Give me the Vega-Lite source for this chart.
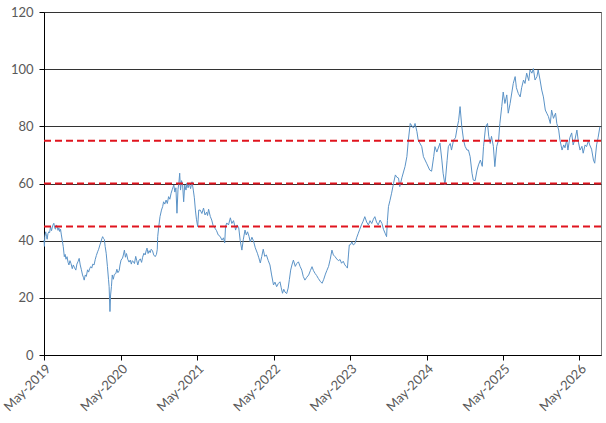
{
  "$schema": "https://vega.github.io/schema/vega-lite/v6.json",
  "description": "Index level, May 2019 to Aug 2026, with reference bands at 45, 60 and 75",
  "width": 557,
  "height": 343,
  "autosize": "none",
  "padding": {"left": 44, "top": 12, "right": 5, "bottom": 68},
  "config": {
    "view": {"stroke": "#7f7f7f", "strokeWidth": 1},
    "axis": {
      "labelFont": "Lato",
      "labelFontSize": 13,
      "labelColor": "#595959",
      "domainColor": "#000000",
      "tickColor": "#000000",
      "tickSize": 5,
      "titleFont": "Lato"
    }
  },
  "datasets": {
    "series": [
      {"date": "2019-05-01", "value": 40.2},
      {"date": "2019-05-03", "value": 38},
      {"date": "2019-05-05", "value": 41.5},
      {"date": "2019-05-09", "value": 43.1},
      {"date": "2019-05-13", "value": 41.5},
      {"date": "2019-05-16", "value": 40.5},
      {"date": "2019-05-20", "value": 42.5},
      {"date": "2019-05-24", "value": 43.1},
      {"date": "2019-05-28", "value": 42.8},
      {"date": "2019-06-01", "value": 44.9},
      {"date": "2019-06-06", "value": 43.5},
      {"date": "2019-06-11", "value": 45.2},
      {"date": "2019-06-17", "value": 46.1},
      {"date": "2019-06-21", "value": 44.5},
      {"date": "2019-06-25", "value": 44},
      {"date": "2019-06-29", "value": 45.5},
      {"date": "2019-07-03", "value": 44.9},
      {"date": "2019-07-07", "value": 43.6},
      {"date": "2019-07-11", "value": 44.5},
      {"date": "2019-07-15", "value": 43.2},
      {"date": "2019-07-19", "value": 44},
      {"date": "2019-07-23", "value": 42},
      {"date": "2019-07-27", "value": 40.2},
      {"date": "2019-08-01", "value": 37.9},
      {"date": "2019-08-06", "value": 34.4},
      {"date": "2019-08-10", "value": 35.2},
      {"date": "2019-08-14", "value": 33.5},
      {"date": "2019-08-19", "value": 34.4},
      {"date": "2019-08-24", "value": 32.4},
      {"date": "2019-08-28", "value": 31.5},
      {"date": "2019-09-02", "value": 33},
      {"date": "2019-09-07", "value": 32},
      {"date": "2019-09-13", "value": 30.2},
      {"date": "2019-09-18", "value": 31.5},
      {"date": "2019-09-24", "value": 30.5},
      {"date": "2019-09-30", "value": 29.7},
      {"date": "2019-10-05", "value": 31.8},
      {"date": "2019-10-10", "value": 32.6},
      {"date": "2019-10-16", "value": 33.8},
      {"date": "2019-10-21", "value": 31.5},
      {"date": "2019-10-26", "value": 30},
      {"date": "2019-11-01", "value": 28},
      {"date": "2019-11-05", "value": 27.2},
      {"date": "2019-11-09", "value": 26.2},
      {"date": "2019-11-14", "value": 28},
      {"date": "2019-11-19", "value": 27.5},
      {"date": "2019-11-25", "value": 29.8},
      {"date": "2019-11-30", "value": 29},
      {"date": "2019-12-05", "value": 30.2},
      {"date": "2019-12-10", "value": 30.9},
      {"date": "2019-12-15", "value": 30.4},
      {"date": "2019-12-20", "value": 31.8},
      {"date": "2019-12-26", "value": 31.5},
      {"date": "2020-01-01", "value": 33.5},
      {"date": "2020-01-06", "value": 34.8},
      {"date": "2020-01-12", "value": 36.1},
      {"date": "2020-01-17", "value": 37},
      {"date": "2020-01-23", "value": 38.5},
      {"date": "2020-01-28", "value": 39.6},
      {"date": "2020-02-01", "value": 40.6},
      {"date": "2020-02-05", "value": 41.4},
      {"date": "2020-02-09", "value": 40.8},
      {"date": "2020-02-13", "value": 40.5},
      {"date": "2020-02-17", "value": 38},
      {"date": "2020-02-22", "value": 35.6},
      {"date": "2020-02-28", "value": 30.9},
      {"date": "2020-03-04", "value": 26.5},
      {"date": "2020-03-07", "value": 23.9},
      {"date": "2020-03-11", "value": 15.2},
      {"date": "2020-03-14", "value": 21},
      {"date": "2020-03-18", "value": 23.9},
      {"date": "2020-03-22", "value": 28},
      {"date": "2020-03-27", "value": 26.5},
      {"date": "2020-04-01", "value": 28.2},
      {"date": "2020-04-08", "value": 28.5},
      {"date": "2020-04-13", "value": 30},
      {"date": "2020-04-18", "value": 28.8},
      {"date": "2020-04-24", "value": 29.5},
      {"date": "2020-04-28", "value": 31.5},
      {"date": "2020-05-03", "value": 33.2},
      {"date": "2020-05-10", "value": 33.9},
      {"date": "2020-05-14", "value": 35},
      {"date": "2020-05-19", "value": 36.7},
      {"date": "2020-05-24", "value": 34.2},
      {"date": "2020-05-29", "value": 35.5},
      {"date": "2020-06-04", "value": 33.5},
      {"date": "2020-06-10", "value": 32.5},
      {"date": "2020-06-16", "value": 33.2},
      {"date": "2020-06-21", "value": 31.8},
      {"date": "2020-06-26", "value": 33},
      {"date": "2020-07-01", "value": 32.6},
      {"date": "2020-07-06", "value": 32},
      {"date": "2020-07-12", "value": 34.5},
      {"date": "2020-07-17", "value": 33},
      {"date": "2020-07-22", "value": 31.5},
      {"date": "2020-07-28", "value": 33.2},
      {"date": "2020-08-03", "value": 33.6},
      {"date": "2020-08-09", "value": 32.4},
      {"date": "2020-08-14", "value": 34.2},
      {"date": "2020-08-20", "value": 35.6},
      {"date": "2020-08-26", "value": 35},
      {"date": "2020-09-01", "value": 36.8},
      {"date": "2020-09-04", "value": 37.4},
      {"date": "2020-09-09", "value": 35.5},
      {"date": "2020-09-14", "value": 36.5},
      {"date": "2020-09-19", "value": 35.8},
      {"date": "2020-09-24", "value": 37},
      {"date": "2020-09-30", "value": 36.5},
      {"date": "2020-10-06", "value": 35},
      {"date": "2020-10-13", "value": 34.4},
      {"date": "2020-10-19", "value": 35.2},
      {"date": "2020-10-23", "value": 37},
      {"date": "2020-10-25", "value": 41.4},
      {"date": "2020-10-30", "value": 44.9},
      {"date": "2020-11-05", "value": 48.4},
      {"date": "2020-11-12", "value": 50.7},
      {"date": "2020-11-18", "value": 52},
      {"date": "2020-11-22", "value": 53.6},
      {"date": "2020-11-28", "value": 52.8},
      {"date": "2020-12-04", "value": 54.2},
      {"date": "2020-12-10", "value": 53},
      {"date": "2020-12-16", "value": 55.4},
      {"date": "2020-12-22", "value": 54.5},
      {"date": "2020-12-28", "value": 56.6},
      {"date": "2021-01-03", "value": 58},
      {"date": "2021-01-10", "value": 59.5},
      {"date": "2021-01-15", "value": 57},
      {"date": "2021-01-20", "value": 58.5},
      {"date": "2021-01-25", "value": 49.6},
      {"date": "2021-01-30", "value": 58},
      {"date": "2021-02-03", "value": 60.1},
      {"date": "2021-02-07", "value": 63.6},
      {"date": "2021-02-11", "value": 57.7},
      {"date": "2021-02-16", "value": 61},
      {"date": "2021-02-21", "value": 59.5},
      {"date": "2021-02-26", "value": 53.6},
      {"date": "2021-03-03", "value": 59.5},
      {"date": "2021-03-09", "value": 57.7},
      {"date": "2021-03-14", "value": 60.2},
      {"date": "2021-03-19", "value": 58.5},
      {"date": "2021-03-25", "value": 60},
      {"date": "2021-03-31", "value": 58.2},
      {"date": "2021-04-07", "value": 60.6},
      {"date": "2021-04-13", "value": 57.7},
      {"date": "2021-04-18", "value": 55},
      {"date": "2021-04-23", "value": 50.7},
      {"date": "2021-04-28", "value": 47.5},
      {"date": "2021-05-04", "value": 44.9},
      {"date": "2021-05-09", "value": 50.7},
      {"date": "2021-05-16", "value": 50.7},
      {"date": "2021-05-24", "value": 49.5},
      {"date": "2021-06-01", "value": 51.4},
      {"date": "2021-06-08", "value": 49},
      {"date": "2021-06-16", "value": 50},
      {"date": "2021-06-20", "value": 48.8},
      {"date": "2021-06-25", "value": 51},
      {"date": "2021-07-03", "value": 48.5},
      {"date": "2021-07-10", "value": 47.2},
      {"date": "2021-07-17", "value": 45.2},
      {"date": "2021-07-25", "value": 44.4},
      {"date": "2021-08-02", "value": 43.5},
      {"date": "2021-08-10", "value": 42},
      {"date": "2021-08-19", "value": 41.5},
      {"date": "2021-08-28", "value": 40.2},
      {"date": "2021-09-04", "value": 41},
      {"date": "2021-09-10", "value": 39.2},
      {"date": "2021-09-14", "value": 45},
      {"date": "2021-09-20", "value": 46.2},
      {"date": "2021-09-28", "value": 45.5},
      {"date": "2021-10-07", "value": 48},
      {"date": "2021-10-14", "value": 46},
      {"date": "2021-10-22", "value": 47},
      {"date": "2021-10-27", "value": 45.5},
      {"date": "2021-11-01", "value": 43.7},
      {"date": "2021-11-08", "value": 45.5},
      {"date": "2021-11-16", "value": 44.5},
      {"date": "2021-11-23", "value": 40},
      {"date": "2021-12-01", "value": 36.7},
      {"date": "2021-12-08", "value": 40.5},
      {"date": "2021-12-16", "value": 43.7},
      {"date": "2021-12-22", "value": 42},
      {"date": "2021-12-28", "value": 43.1},
      {"date": "2022-01-04", "value": 41.5},
      {"date": "2022-01-10", "value": 39.6},
      {"date": "2022-01-18", "value": 41.2},
      {"date": "2022-01-25", "value": 40},
      {"date": "2022-02-03", "value": 37.5},
      {"date": "2022-02-13", "value": 35.6},
      {"date": "2022-02-20", "value": 34},
      {"date": "2022-02-27", "value": 32.2},
      {"date": "2022-03-06", "value": 34.5},
      {"date": "2022-03-13", "value": 37},
      {"date": "2022-03-20", "value": 34.5},
      {"date": "2022-03-28", "value": 35},
      {"date": "2022-04-06", "value": 33},
      {"date": "2022-04-14", "value": 31.5},
      {"date": "2022-04-22", "value": 28},
      {"date": "2022-05-01", "value": 24.5},
      {"date": "2022-05-08", "value": 25.5},
      {"date": "2022-05-16", "value": 23.9},
      {"date": "2022-05-24", "value": 25},
      {"date": "2022-06-01", "value": 25.6},
      {"date": "2022-06-07", "value": 23.5},
      {"date": "2022-06-13", "value": 21.6},
      {"date": "2022-06-19", "value": 23},
      {"date": "2022-06-25", "value": 22},
      {"date": "2022-07-03", "value": 21.5},
      {"date": "2022-07-10", "value": 23.4},
      {"date": "2022-07-16", "value": 26.5},
      {"date": "2022-07-22", "value": 29.7},
      {"date": "2022-07-28", "value": 31.5},
      {"date": "2022-08-04", "value": 33.2},
      {"date": "2022-08-13", "value": 31},
      {"date": "2022-08-20", "value": 32},
      {"date": "2022-08-28", "value": 32.6},
      {"date": "2022-09-05", "value": 31},
      {"date": "2022-09-13", "value": 29.7},
      {"date": "2022-09-20", "value": 27.5},
      {"date": "2022-09-28", "value": 26.2},
      {"date": "2022-10-07", "value": 27.2},
      {"date": "2022-10-16", "value": 28},
      {"date": "2022-10-24", "value": 29.5},
      {"date": "2022-11-01", "value": 30.9},
      {"date": "2022-11-08", "value": 29.5},
      {"date": "2022-11-16", "value": 28.5},
      {"date": "2022-11-23", "value": 27.8},
      {"date": "2022-12-01", "value": 26.8},
      {"date": "2022-12-10", "value": 25.8},
      {"date": "2022-12-19", "value": 25.1},
      {"date": "2022-12-27", "value": 26.5},
      {"date": "2023-01-04", "value": 28.3},
      {"date": "2023-01-11", "value": 29.6},
      {"date": "2023-01-19", "value": 31},
      {"date": "2023-01-27", "value": 33.5},
      {"date": "2023-02-04", "value": 36.7},
      {"date": "2023-02-11", "value": 35},
      {"date": "2023-02-19", "value": 34.4},
      {"date": "2023-02-27", "value": 33.6},
      {"date": "2023-03-07", "value": 33},
      {"date": "2023-03-15", "value": 33.4},
      {"date": "2023-03-22", "value": 32.1},
      {"date": "2023-03-30", "value": 32.8},
      {"date": "2023-04-07", "value": 31.5},
      {"date": "2023-04-13", "value": 31},
      {"date": "2023-04-19", "value": 30.4},
      {"date": "2023-04-24", "value": 35},
      {"date": "2023-04-28", "value": 38.5},
      {"date": "2023-05-04", "value": 38.6},
      {"date": "2023-05-10", "value": 39.6},
      {"date": "2023-05-17", "value": 38.5},
      {"date": "2023-05-25", "value": 39},
      {"date": "2023-06-02", "value": 41},
      {"date": "2023-06-10", "value": 42.6},
      {"date": "2023-06-17", "value": 44},
      {"date": "2023-06-25", "value": 45.5},
      {"date": "2023-07-03", "value": 46.8},
      {"date": "2023-07-11", "value": 48.4},
      {"date": "2023-07-20", "value": 46.5},
      {"date": "2023-07-28", "value": 45.5},
      {"date": "2023-08-05", "value": 47},
      {"date": "2023-08-13", "value": 46},
      {"date": "2023-08-21", "value": 47.5},
      {"date": "2023-08-28", "value": 48.4},
      {"date": "2023-09-05", "value": 46.5},
      {"date": "2023-09-13", "value": 45.5},
      {"date": "2023-09-22", "value": 47.2},
      {"date": "2023-10-01", "value": 46},
      {"date": "2023-10-08", "value": 44},
      {"date": "2023-10-16", "value": 42.6},
      {"date": "2023-10-23", "value": 41.4},
      {"date": "2023-10-27", "value": 47},
      {"date": "2023-11-01", "value": 51.9},
      {"date": "2023-11-08", "value": 54},
      {"date": "2023-11-16", "value": 56.6},
      {"date": "2023-11-25", "value": 60},
      {"date": "2023-12-04", "value": 63},
      {"date": "2023-12-11", "value": 62.2},
      {"date": "2023-12-19", "value": 61.9},
      {"date": "2023-12-25", "value": 58.9},
      {"date": "2024-01-04", "value": 62},
      {"date": "2024-01-19", "value": 65.9},
      {"date": "2024-01-28", "value": 69.4},
      {"date": "2024-02-04", "value": 75.2},
      {"date": "2024-02-13", "value": 81},
      {"date": "2024-02-28", "value": 79.4},
      {"date": "2024-03-07", "value": 81},
      {"date": "2024-03-16", "value": 78.1},
      {"date": "2024-03-22", "value": 75.2},
      {"date": "2024-04-08", "value": 72.9},
      {"date": "2024-04-16", "value": 69.4},
      {"date": "2024-05-01", "value": 67.1},
      {"date": "2024-05-16", "value": 64.7},
      {"date": "2024-05-25", "value": 64.3},
      {"date": "2024-06-04", "value": 69.4},
      {"date": "2024-06-10", "value": 72.9},
      {"date": "2024-06-19", "value": 71},
      {"date": "2024-07-04", "value": 74.1},
      {"date": "2024-07-13", "value": 68.2},
      {"date": "2024-07-19", "value": 63.6},
      {"date": "2024-07-28", "value": 59.5},
      {"date": "2024-08-07", "value": 68},
      {"date": "2024-08-13", "value": 72.9},
      {"date": "2024-08-22", "value": 74},
      {"date": "2024-08-28", "value": 71.7},
      {"date": "2024-09-07", "value": 75.2},
      {"date": "2024-09-16", "value": 76},
      {"date": "2024-09-25", "value": 79.9},
      {"date": "2024-10-01", "value": 82},
      {"date": "2024-10-08", "value": 86.9},
      {"date": "2024-10-16", "value": 80},
      {"date": "2024-10-25", "value": 75},
      {"date": "2024-11-01", "value": 73},
      {"date": "2024-11-10", "value": 71.7},
      {"date": "2024-11-17", "value": 71.7},
      {"date": "2024-11-25", "value": 69.4},
      {"date": "2024-12-04", "value": 63.6},
      {"date": "2024-12-10", "value": 61.2},
      {"date": "2024-12-19", "value": 61},
      {"date": "2024-12-28", "value": 64.7},
      {"date": "2025-01-04", "value": 66.5},
      {"date": "2025-01-13", "value": 68.2},
      {"date": "2025-01-22", "value": 66},
      {"date": "2025-01-28", "value": 72.9},
      {"date": "2025-02-07", "value": 79.9},
      {"date": "2025-02-16", "value": 81},
      {"date": "2025-02-22", "value": 76.5},
      {"date": "2025-03-01", "value": 74},
      {"date": "2025-03-07", "value": 76.5},
      {"date": "2025-03-16", "value": 73},
      {"date": "2025-03-23", "value": 65.9},
      {"date": "2025-04-01", "value": 73},
      {"date": "2025-04-10", "value": 75.2},
      {"date": "2025-04-16", "value": 81},
      {"date": "2025-04-25", "value": 86.9},
      {"date": "2025-05-02", "value": 92},
      {"date": "2025-05-10", "value": 88},
      {"date": "2025-05-19", "value": 91},
      {"date": "2025-05-26", "value": 84.6},
      {"date": "2025-06-04", "value": 88},
      {"date": "2025-06-19", "value": 95},
      {"date": "2025-06-28", "value": 97.4},
      {"date": "2025-07-04", "value": 93.5},
      {"date": "2025-07-13", "value": 91.5},
      {"date": "2025-07-22", "value": 90.3},
      {"date": "2025-07-29", "value": 93.5},
      {"date": "2025-08-07", "value": 96.2},
      {"date": "2025-08-14", "value": 95},
      {"date": "2025-08-22", "value": 98.6},
      {"date": "2025-09-01", "value": 96},
      {"date": "2025-09-07", "value": 99.7},
      {"date": "2025-09-16", "value": 98.6},
      {"date": "2025-09-23", "value": 100.2},
      {"date": "2025-10-01", "value": 96.2},
      {"date": "2025-10-10", "value": 97.4},
      {"date": "2025-10-16", "value": 99.7},
      {"date": "2025-10-25", "value": 96.2},
      {"date": "2025-11-02", "value": 92.7},
      {"date": "2025-11-10", "value": 90.3},
      {"date": "2025-11-19", "value": 85.7},
      {"date": "2025-11-26", "value": 84.6},
      {"date": "2025-12-04", "value": 83.4},
      {"date": "2025-12-13", "value": 81},
      {"date": "2025-12-19", "value": 85.7},
      {"date": "2025-12-28", "value": 82.8},
      {"date": "2026-01-07", "value": 84.6},
      {"date": "2026-01-13", "value": 81},
      {"date": "2026-01-22", "value": 78.7},
      {"date": "2026-01-28", "value": 75.2},
      {"date": "2026-02-07", "value": 71.7},
      {"date": "2026-02-15", "value": 73.5},
      {"date": "2026-02-21", "value": 72.5},
      {"date": "2026-03-01", "value": 75.2},
      {"date": "2026-03-07", "value": 71.7},
      {"date": "2026-03-16", "value": 76},
      {"date": "2026-03-25", "value": 77.7},
      {"date": "2026-04-01", "value": 73.5},
      {"date": "2026-04-10", "value": 75.5},
      {"date": "2026-04-19", "value": 78.7},
      {"date": "2026-04-26", "value": 74.5},
      {"date": "2026-05-04", "value": 71.7},
      {"date": "2026-05-13", "value": 73},
      {"date": "2026-05-19", "value": 70.6},
      {"date": "2026-05-28", "value": 73.5},
      {"date": "2026-06-04", "value": 72.9},
      {"date": "2026-06-13", "value": 75},
      {"date": "2026-06-19", "value": 73.5},
      {"date": "2026-06-28", "value": 72},
      {"date": "2026-07-07", "value": 68.2},
      {"date": "2026-07-13", "value": 67.1},
      {"date": "2026-07-22", "value": 73.5},
      {"date": "2026-07-29", "value": 76},
      {"date": "2026-08-07", "value": 79.9}
    ],
    "levels": [
      {"level": 45},
      {"level": 60},
      {"level": 75}
    ]
  },
  "layer": [
    {
      "data": {"name": "series"},
      "mark": {"type": "line", "color": "#5b93c7", "strokeWidth": 1},
      "encoding": {
        "x": {
          "field": "date",
          "type": "temporal",
          "scale": {
            "type": "utc",
            "domain": [
              {"year": 2019, "month": 5, "date": 1, "utc": true},
              {"year": 2026, "month": 8, "date": 12, "utc": true}
            ]
          },
          "axis": {
            "title": null,
            "grid": false,
            "labelExpr": "utcFormat(datum.value, '%b-%Y')",
            "labelAngle": -45,
            "labelAlign": "right",
            "labelBaseline": "top",
            "labelPadding": 2,
            "labelLimit": 200,
            "values": [
              {"year": 2019, "month": 5, "date": 1, "utc": true},
              {"year": 2020, "month": 5, "date": 1, "utc": true},
              {"year": 2021, "month": 5, "date": 1, "utc": true},
              {"year": 2022, "month": 5, "date": 1, "utc": true},
              {"year": 2023, "month": 5, "date": 1, "utc": true},
              {"year": 2024, "month": 5, "date": 1, "utc": true},
              {"year": 2025, "month": 5, "date": 1, "utc": true},
              {"year": 2026, "month": 5, "date": 1, "utc": true}
            ]
          }
        },
        "y": {
          "field": "value",
          "type": "quantitative",
          "scale": {"domain": [0, 120], "nice": false},
          "axis": {
            "title": null,
            "values": [0, 20, 40, 60, 80, 100, 120],
            "grid": true,
            "gridColor": "#333333",
            "gridOpacity": 1,
            "labelPadding": 6
          }
        }
      }
    },
    {
      "data": {"name": "levels"},
      "mark": {"type": "rule", "color": "#e0141e", "strokeWidth": 2, "strokeDash": [7, 4]},
      "encoding": {
        "y": {"field": "level", "type": "quantitative"}
      }
    }
  ]
}
